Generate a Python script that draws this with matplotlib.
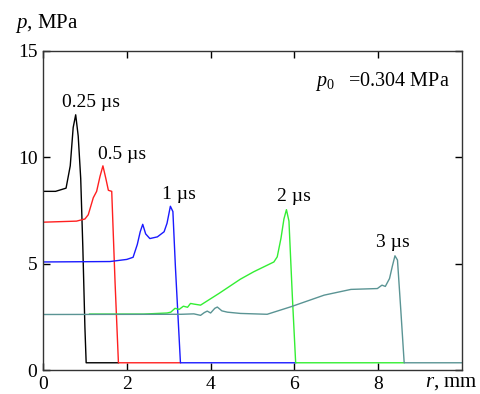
import numpy as np
import matplotlib.pyplot as plt

plt.rcParams['font.family'] = ['Liberation Serif', 'DejaVu Serif']
plt.rcParams['mathtext.fontset'] = 'custom'
plt.rcParams['mathtext.rm'] = 'Liberation Serif'
plt.rcParams['mathtext.it'] = 'Liberation Serif:italic'

# pressure profiles p(r) at several times
r_025 = [0.0, 0.3, 0.55, 0.65, 0.72, 0.78, 0.84, 0.9, 0.95, 1.0, 1.03, 1.8]
p_025 = [8.4, 8.4, 8.55, 9.6, 11.4, 12.0, 11.0, 9.0, 5.8, 2.0, 0.34, 0.34]

r_05 = [0.0, 0.8, 1.0, 1.08, 1.2, 1.28, 1.36, 1.43, 1.5, 1.56, 1.64, 1.72, 1.8, 3.28]
p_05 = [6.95, 7.0, 7.1, 7.3, 8.1, 8.4, 9.1, 9.6, 9.0, 8.45, 8.4, 4.1, 0.34, 0.34]

r_1 = [0.0, 1.6, 2.0, 2.15, 2.25, 2.32, 2.38, 2.45, 2.55, 2.73, 2.89, 2.96, 3.04,
       3.1, 3.16, 3.28, 6.03]
p_1 = [5.08, 5.1, 5.2, 5.3, 5.9, 6.5, 6.85, 6.4, 6.18, 6.26, 6.5, 6.9, 7.7,
       7.45, 4.85, 0.34, 0.34]

r_2 = [1.11, 2.4, 2.96, 3.05, 3.15, 3.25, 3.35, 3.45, 3.52, 3.6, 3.76, 4.2,
       4.71, 5.03, 5.27, 5.51, 5.59, 5.68, 5.75, 5.81, 5.87, 5.95, 6.03, 8.62]
p_2 = [2.63, 2.63, 2.68, 2.72, 2.9, 2.85, 3.0, 2.95, 3.13, 3.1, 3.05, 3.6,
       4.27, 4.62, 4.85, 5.08, 5.32, 6.2, 7.1, 7.54, 7.0, 3.5, 0.34, 0.34]

r_3 = [0.0, 3.3, 3.6, 3.76, 3.85, 3.92, 4.0, 4.1, 4.16, 4.27, 4.4, 4.71, 5.35,
       5.91, 6.71, 7.35, 7.98, 8.09, 8.17, 8.27, 8.34, 8.4, 8.46, 8.54, 8.62, 10.0]
p_3 = [2.61, 2.62, 2.64, 2.57, 2.7, 2.77, 2.68, 2.9, 2.96, 2.78, 2.72, 2.66, 2.62,
       2.97, 3.52, 3.79, 3.83, 3.99, 3.93, 4.3, 4.9, 5.37, 5.17, 2.8, 0.34, 0.34]

curves = [
    (r_025, p_025, 'black', '0.25 \u00b5s', 1.15, 12.35),
    (r_05, p_05, '#ff2020', '0.5 \u00b5s', 1.89, 9.9),
    (r_1, p_1, '#1a1aff', '1 \u00b5s', 3.24, 8.05),
    (r_2, p_2, '#33ee33', '2 \u00b5s', 5.99, 7.95),
    (r_3, p_3, '#5a9494', '3 \u00b5s', 8.34, 5.8),
]

fig = plt.figure(figsize=(4.8, 3.94), dpi=100)
ax = fig.add_axes([0.0896, 0.0609, 0.8729, 0.8097])

for r, p, col, lab, lx, ly in curves:
    ax.plot(r, p, color=col, lw=1.0)
    ax.text(lx, ly, lab, ha='center', va='baseline', fontsize=14)

ax.set_xlim(0, 10)
ax.set_ylim(0, 15)
ax.set_xticks([0, 2, 4, 6, 8])
ax.set_yticks([0, 5, 10, 15])
ax.tick_params(direction='in', length=5, width=1, top=True, right=True,
               labelsize=14, pad=4)
for s in ax.spines.values():
    s.set_color('#333333')
    s.set_linewidth(1.0)

ax.text(0.97, 0.905, r'$p_0\ \ \ $=0.304 MPa', transform=ax.transAxes,
        ha='right', va='center', fontsize=14.5)
fig.text(0.031, 0.94, '$p$, MPa', ha='left', va='center', fontsize=15)
fig.text(0.885, 0.028, '$r$, mm', ha='left', va='center', fontsize=15)

fig.savefig('out.png', dpi=100)
